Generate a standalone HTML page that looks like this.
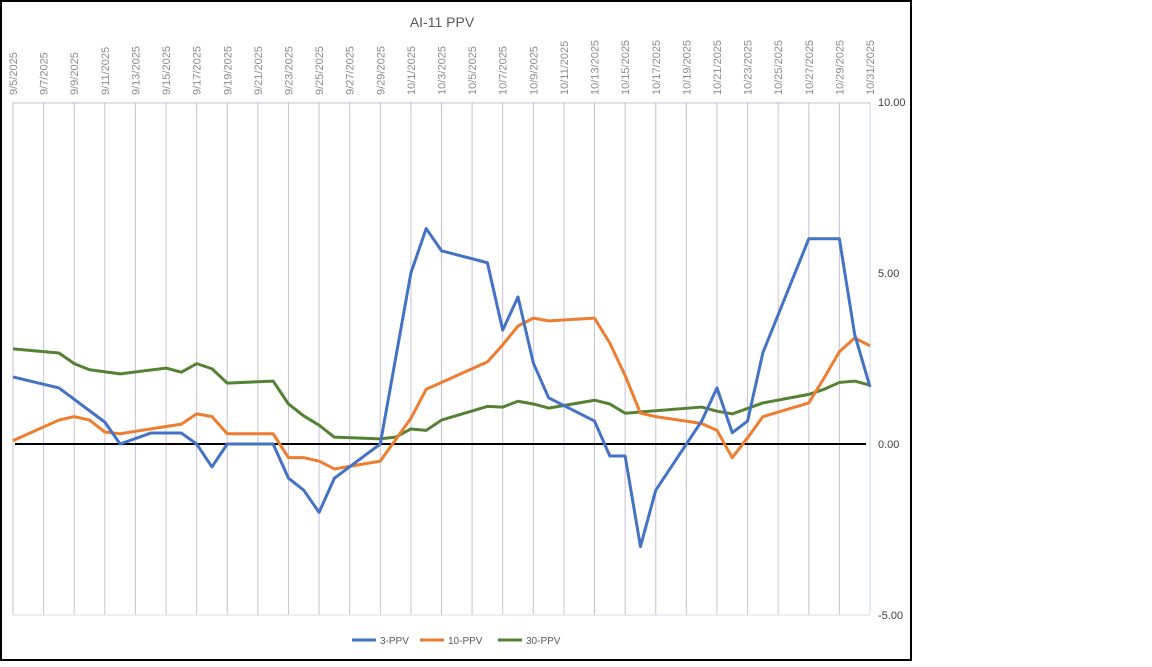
<!DOCTYPE html>
<html><head><meta charset="utf-8"><style>
body{margin:0;background:#fff;width:1152px;height:662px;overflow:hidden;font-family:"Liberation Sans",sans-serif}
</style></head><body>
<svg id="chart" width="1152" height="662">
<rect x="1" y="1" width="910" height="659" fill="#fff" stroke="#000" stroke-width="2"/>
<text x="442" y="27" text-anchor="middle" font-size="14" fill="#595959">AI-11 PPV</text>
<g id="grid"></g><g id="series"></g>
<g>
<line x1="352" y1="640" x2="376" y2="640" stroke="#4472C4" stroke-width="3"/><text x="380" y="644" font-size="10" fill="#595959">3-PPV</text>
<line x1="420" y1="640" x2="444" y2="640" stroke="#ED7D31" stroke-width="3"/><text x="448" y="644" font-size="10" fill="#595959">10-PPV</text>
<line x1="498" y1="640" x2="522" y2="640" stroke="#548235" stroke-width="3"/><text x="526" y="644" font-size="10" fill="#595959">30-PPV</text>
</g>
</svg>
<script>
const startDate = new Date(2025,8,5);
const nDays = 57;
const yTicks = [10,5,0,-5];
const yTickLabels = ["10.00","5.00","0.00","-5.00"];
const blueDays = [0,3,6,7,9,11,12,13,14,17,18,19,20,21,24,26,27,28,31,32,33,34,35,38,39,40,41,42,45,46,47,48,49,52,54,55,56];
const blueVals = [1.96,1.64,0.64,0,0.32,0.32,0,-0.67,0,0,-1,-1.35,-2.0,-1.0,0,5.0,6.3,5.65,5.3,3.33,4.3,2.37,1.35,0.67,-0.35,-0.35,-3.0,-1.35,0.67,1.64,0.33,0.67,2.67,6.0,6.0,3.2,1.67];
const orangeDays = [0,3,4,5,6,7,11,12,13,14,17,18,19,20,21,24,26,27,31,32,33,34,35,38,39,40,41,42,45,46,47,48,49,52,53,54,55,56];
const orangeVals = [0.1,0.7,0.8,0.7,0.35,0.3,0.58,0.88,0.8,0.3,0.3,-0.4,-0.4,-0.5,-0.73,-0.5,0.75,1.6,2.4,2.9,3.45,3.68,3.6,3.68,2.95,2.0,0.9,0.8,0.6,0.4,-0.4,0.18,0.8,1.2,1.93,2.7,3.1,2.87];
const greenDays = [0,3,4,5,7,10,11,12,13,14,17,18,19,20,21,24,25,26,27,28,31,32,33,34,35,38,39,40,45,46,47,49,52,53,54,55,56];
const greenVals = [2.78,2.66,2.35,2.17,2.05,2.22,2.1,2.35,2.2,1.78,1.84,1.17,0.82,0.55,0.2,0.15,0.2,0.44,0.4,0.7,1.1,1.08,1.25,1.17,1.05,1.28,1.17,0.9,1.08,0.96,0.88,1.2,1.45,1.6,1.8,1.84,1.72];

const X0=13,X1=870,Y0=444,PU=34.2,YT=102,YB=615;
const xs=d=>X0+d*(X1-X0)/(nDays-1);
const ys=v=>Y0-v*PU;
const NS="http://www.w3.org/2000/svg";
const mk=(t,a,p)=>{const e=document.createElementNS(NS,t);for(const k in a)e.setAttribute(k,a[k]);p.appendChild(e);return e;};
const g=document.getElementById('grid'), s=document.getElementById('series');
for(let d=0;d<nDays;d+=2){
  const x=xs(d);
  const gl=mk('line',{x1:x,y1:YT,x2:x,y2:YB,stroke:'#c8c0d6','stroke-width':1},g);
  
  
  const dt=new Date(startDate);dt.setDate(dt.getDate()+d);
  const lab=(dt.getMonth()+1)+'/'+dt.getDate()+'/2025';
  const t=mk('text',{x:x+4,y:95,transform:`rotate(-90 ${x+4} 95)`,'font-size':11,fill:'#8c8c8c'},g);
  t.textContent=lab;
  
  
}
const tl=mk('line',{x1:X0,y1:YT+1,x2:X1,y2:YT+1,stroke:'#c8c0d6'},g);


const bl=mk('line',{x1:X0,y1:YB,x2:X1,y2:YB,stroke:'#d6dcea'},g);


const ra=mk('line',{x1:X1,y1:YT,x2:X1,y2:YB,stroke:'#c8d4ec'},g);


yTicks.forEach((v,i)=>{
  const t=mk('text',{x:878,y:ys(v)+4,'font-size':11,fill:'#404040'},g);
  t.textContent=yTickLabels[i];
  
  
});
const zl=mk('line',{x1:15,y1:ys(0),x2:866,y2:ys(0),stroke:'#000','stroke-width':2},g);


function line(days,vals,color,name){
  const p=mk('polyline',{points:days.map((d,i)=>xs(d)+','+ys(vals[i])).join(' '),fill:'none',stroke:color,'stroke-width':3,'stroke-linejoin':'round'},s);
  
  
}
line(greenDays,greenVals,'#548235','series-30-ppv');
line(orangeDays,orangeVals,'#ED7D31','series-10-ppv');
line(blueDays,blueVals,'#4472C4','series-3-ppv');
</script>
</body></html>
